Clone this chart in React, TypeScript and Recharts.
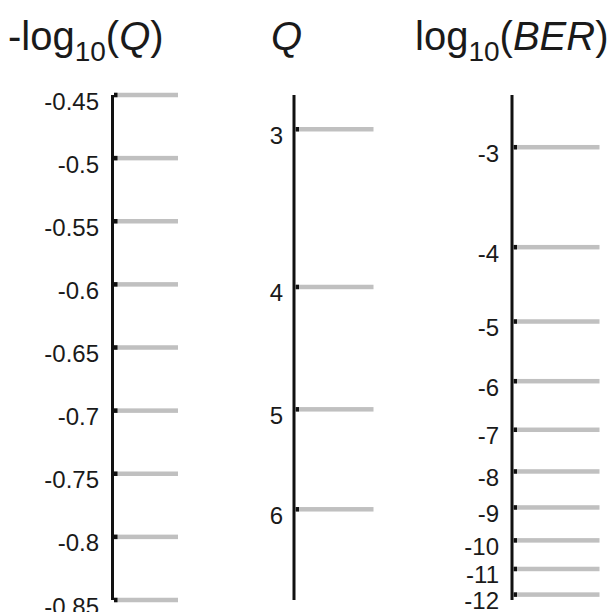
import React from 'react';
import { ComposedChart, XAxis, YAxis, Line } from 'recharts';

// -log10(Q) axis ticks
const negLogQTicks = [-0.45, -0.5, -0.55, -0.6, -0.65, -0.7, -0.75, -0.8, -0.85];
const negLogQLabels = ['-0.45', '-0.5', '-0.55', '-0.6', '-0.65', '-0.7', '-0.75', '-0.8', '-0.85'];
// Q axis ticks
const qTicks = [3, 4, 5, 6];
const qLabels = ['3', '4', '5', '6'];
// log10(BER) axis ticks and the Q value at which each falls
const berExponents = [-3, -4, -5, -6, -7, -8, -9, -10, -11, -12];
const qAtBer = [3.10, 3.72, 4.26, 4.75, 5.19, 5.60, 5.98, 6.35, 6.69, 7.01];

const domain: [number, number] = [-0.85, -0.45];
const rangeData = [{ i: 0, v: -0.45 }, { i: 1, v: -0.85 }];

const FONT = '"Liberation Sans", Arial, Helvetica, sans-serif';
const margin = { top: 95, right: 0, bottom: 12, left: 0 };

function AxisTick(props: any) {
  const { x, y, index, labels, len, gap } = props;
  return (
    <g>
      <rect x={x + 1.5} y={y - 2.25} width={len} height={4.5} fill="#c0c0c0" />
      <rect x={x + 1.5} y={y - 2.25} width={3.5} height={4.5} fill="#111" />
      <text
        x={x - gap}
        y={y + 6}
        dy="0.355em"
        textAnchor="end"
        fontSize={24}
        fontFamily={FONT}
        fill="#1a1a1a"
      >
        {labels[index]}
      </text>
    </g>
  );
}

interface AxisChartProps {
  axisX: number;
  ticks: number[];
  labels: string[];
  len: number;
  gap: number;
}

function AxisChart({ axisX, ticks, labels, len, gap }: AxisChartProps) {
  return (
    <div style={{ position: 'absolute', left: 0, top: 0 }}>
      <ComposedChart width={612} height={612} data={rangeData} margin={margin}>
        <XAxis dataKey="i" hide />
        <YAxis
          yAxisId="a"
          type="number"
          domain={domain}
          ticks={ticks}
          interval={0}
          width={axisX}
          tickSize={0}
          tickMargin={0}
          tickLine={false}
          allowDataOverflow
          axisLine={{ stroke: '#111', strokeWidth: 3 }}
          tick={(p: any) => <AxisTick {...p} labels={labels} len={len} gap={gap} />}
        />
        <Line yAxisId="a" dataKey="v" stroke="none" dot={false} isAnimationActive={false} />
      </ComposedChart>
    </div>
  );
}

export default function App() {
  const qPositions = qTicks.map((q) => -Math.log10(q));
  const berPositions = qAtBer.map((q) => -Math.log10(q));
  const berLabels = berExponents.map((e) => String(e));
  return (
    <div style={{ position: 'absolute', left: 0, top: 0, width: 612, height: 612, background: '#fff' }}>
      <AxisChart axisX={112.5} ticks={negLogQTicks} labels={negLogQLabels} len={64} gap={13.5} />
      <AxisChart axisX={294} ticks={qPositions} labels={qLabels} len={78} gap={11} />
      <AxisChart axisX={512} ticks={berPositions} labels={berLabels} len={86} gap={13} />
      <svg width={612} height={612} style={{ position: 'absolute', left: 0, top: 0, pointerEvents: 'none' }}>
        <text x={8} y={50} fontSize={40} fontFamily={FONT} fill="#1a1a1a">
          -log
          <tspan fontSize={28} dy={11}>10</tspan>
          <tspan dy={-11}>(</tspan>
          <tspan fontStyle="italic">Q</tspan>
          <tspan>)</tspan>
        </text>
        <text x={271} y={50} fontSize={40} fontFamily={FONT} fill="#1a1a1a" fontStyle="italic">
          Q
        </text>
        <text x={415} y={50} fontSize={40} fontFamily={FONT} fill="#1a1a1a">
          log
          <tspan fontSize={28} dy={11}>10</tspan>
          <tspan dy={-11}>(</tspan>
          <tspan fontStyle="italic">BER</tspan>
          <tspan>)</tspan>
        </text>
      </svg>
    </div>
  );
}
